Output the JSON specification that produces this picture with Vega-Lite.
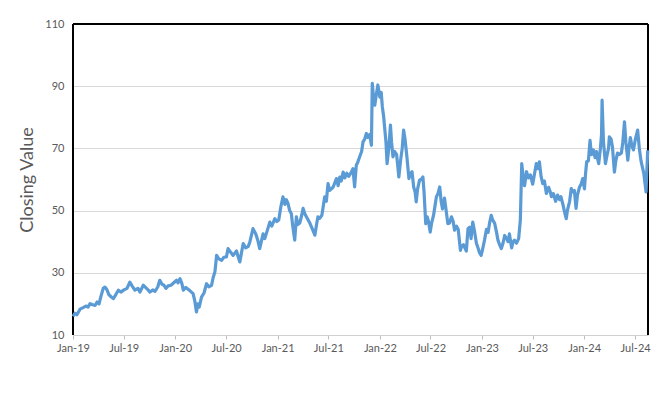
{
  "$schema": "https://vega.github.io/schema/vega-lite/v6.json",
  "width": 575,
  "height": 311,
  "autosize": {"type": "none"},
  "padding": {"left": 73, "top": 24, "right": 23, "bottom": 61},
  "background": "white",
  "config": {
    "view": {"stroke": null},
    "font": "Lato",
    "axis": {"labelFont": "Lato", "titleFont": "Lato", "labelColor": "#595959", "titleColor": "#595959"}
  },
  "data": {"values": [
    {"date":"2019-01-01","close":16.0},{"date":"2019-01-08","close":17.0},{"date":"2019-01-15","close":16.5},{"date":"2019-01-26","close":18.3},
    {"date":"2019-02-06","close":18.8},{"date":"2019-02-16","close":19.3},{"date":"2019-02-24","close":19.0},{"date":"2019-03-03","close":20.1},
    {"date":"2019-03-10","close":19.8},{"date":"2019-03-21","close":19.5},{"date":"2019-03-28","close":20.6},{"date":"2019-04-04","close":20.0},
    {"date":"2019-04-11","close":22.5},{"date":"2019-04-19","close":25.0},{"date":"2019-04-25","close":25.4},{"date":"2019-05-02","close":24.6},
    {"date":"2019-05-09","close":23.0},{"date":"2019-05-17","close":22.3},{"date":"2019-05-25","close":21.7},{"date":"2019-06-03","close":23.0},
    {"date":"2019-06-12","close":24.4},{"date":"2019-06-21","close":23.8},{"date":"2019-07-02","close":24.5},{"date":"2019-07-13","close":25.0},
    {"date":"2019-07-23","close":27.0},{"date":"2019-07-31","close":25.8},{"date":"2019-08-10","close":24.4},{"date":"2019-08-21","close":25.0},
    {"date":"2019-08-28","close":23.8},{"date":"2019-09-09","close":26.0},{"date":"2019-09-18","close":25.2},{"date":"2019-09-26","close":24.5},
    {"date":"2019-10-03","close":23.8},{"date":"2019-10-13","close":24.5},{"date":"2019-10-21","close":24.0},{"date":"2019-10-31","close":25.5},
    {"date":"2019-11-07","close":27.6},{"date":"2019-11-15","close":26.3},{"date":"2019-11-22","close":26.0},{"date":"2019-11-29","close":25.0},
    {"date":"2019-12-07","close":25.8},{"date":"2019-12-17","close":26.0},{"date":"2019-12-27","close":26.8},{"date":"2020-01-06","close":27.6},
    {"date":"2020-01-11","close":26.8},{"date":"2020-01-18","close":28.1},{"date":"2020-01-25","close":26.5},{"date":"2020-01-30","close":24.4},
    {"date":"2020-02-08","close":25.3},{"date":"2020-02-15","close":24.8},{"date":"2020-02-23","close":24.2},{"date":"2020-03-05","close":23.3},
    {"date":"2020-03-11","close":21.0},{"date":"2020-03-17","close":17.4},{"date":"2020-03-22","close":20.0},{"date":"2020-03-27","close":19.0},
    {"date":"2020-04-04","close":22.2},{"date":"2020-04-13","close":23.5},{"date":"2020-04-22","close":26.5},{"date":"2020-04-30","close":25.5},
    {"date":"2020-05-10","close":26.0},{"date":"2020-05-16","close":28.6},{"date":"2020-05-22","close":30.3},{"date":"2020-05-28","close":35.6},
    {"date":"2020-06-05","close":34.5},{"date":"2020-06-15","close":34.0},{"date":"2020-06-23","close":35.0},{"date":"2020-07-02","close":35.1},
    {"date":"2020-07-08","close":37.8},{"date":"2020-07-18","close":36.5},{"date":"2020-07-26","close":35.6},{"date":"2020-08-07","close":37.0},
    {"date":"2020-08-12","close":35.5},{"date":"2020-08-19","close":33.5},{"date":"2020-08-24","close":36.0},{"date":"2020-08-31","close":39.4},
    {"date":"2020-09-09","close":38.0},{"date":"2020-09-18","close":38.5},{"date":"2020-09-24","close":40.0},{"date":"2020-10-05","close":44.2},
    {"date":"2020-10-15","close":42.5},{"date":"2020-10-22","close":40.5},{"date":"2020-10-29","close":37.8},{"date":"2020-11-10","close":42.5},
    {"date":"2020-11-16","close":41.0},{"date":"2020-11-23","close":43.0},{"date":"2020-12-04","close":46.3},{"date":"2020-12-11","close":45.0},
    {"date":"2020-12-22","close":47.4},{"date":"2020-12-29","close":46.5},{"date":"2021-01-05","close":47.0},{"date":"2021-01-12","close":51.0},
    {"date":"2021-01-20","close":54.4},{"date":"2021-01-27","close":52.0},{"date":"2021-02-01","close":53.5},{"date":"2021-02-07","close":52.3},
    {"date":"2021-02-13","close":50.0},{"date":"2021-02-19","close":49.0},{"date":"2021-02-24","close":45.0},{"date":"2021-03-03","close":40.5},
    {"date":"2021-03-09","close":48.0},{"date":"2021-03-14","close":45.5},{"date":"2021-03-21","close":46.0},{"date":"2021-03-28","close":48.5},
    {"date":"2021-04-02","close":50.7},{"date":"2021-04-08","close":49.0},{"date":"2021-04-20","close":47.0},{"date":"2021-04-26","close":46.0},
    {"date":"2021-05-03","close":44.5},{"date":"2021-05-14","close":42.1},{"date":"2021-05-19","close":45.0},{"date":"2021-05-25","close":48.0},
    {"date":"2021-05-31","close":47.5},{"date":"2021-06-08","close":48.5},{"date":"2021-06-18","close":54.4},{"date":"2021-06-24","close":53.0},
    {"date":"2021-06-30","close":58.7},{"date":"2021-07-06","close":56.5},{"date":"2021-07-18","close":57.5},{"date":"2021-07-30","close":60.3},
    {"date":"2021-08-05","close":58.0},{"date":"2021-08-11","close":60.8},{"date":"2021-08-16","close":59.5},{"date":"2021-08-23","close":62.4},
    {"date":"2021-08-29","close":60.5},{"date":"2021-09-05","close":62.0},{"date":"2021-09-12","close":61.0},{"date":"2021-09-22","close":62.5},
    {"date":"2021-09-27","close":63.5},{"date":"2021-10-03","close":57.6},{"date":"2021-10-09","close":64.6},{"date":"2021-10-14","close":65.5},
    {"date":"2021-10-21","close":67.3},{"date":"2021-10-28","close":69.0},{"date":"2021-11-02","close":72.1},{"date":"2021-11-08","close":73.0},
    {"date":"2021-11-14","close":74.8},{"date":"2021-11-19","close":73.5},{"date":"2021-11-26","close":74.5},{"date":"2021-12-02","close":71.0},
    {"date":"2021-12-05","close":90.9},{"date":"2021-12-10","close":86.0},{"date":"2021-12-14","close":83.9},{"date":"2021-12-19","close":87.0},
    {"date":"2021-12-25","close":90.4},{"date":"2022-01-01","close":86.5},{"date":"2022-01-06","close":88.0},{"date":"2022-01-10","close":83.4},
    {"date":"2022-01-15","close":80.0},{"date":"2022-01-18","close":76.9},{"date":"2022-01-23","close":72.0},{"date":"2022-01-27","close":65.1},
    {"date":"2022-02-02","close":70.0},{"date":"2022-02-08","close":77.5},{"date":"2022-02-12","close":72.0},{"date":"2022-02-17","close":67.3},
    {"date":"2022-02-23","close":69.0},{"date":"2022-03-02","close":68.0},{"date":"2022-03-10","close":60.8},{"date":"2022-03-16","close":66.0},
    {"date":"2022-03-22","close":70.0},{"date":"2022-03-27","close":75.9},{"date":"2022-04-01","close":73.0},{"date":"2022-04-07","close":68.0},
    {"date":"2022-04-15","close":60.3},{"date":"2022-04-21","close":62.0},{"date":"2022-04-26","close":62.5},{"date":"2022-05-02","close":57.6},
    {"date":"2022-05-07","close":56.0},{"date":"2022-05-11","close":52.8},{"date":"2022-05-16","close":57.0},{"date":"2022-05-23","close":59.8},
    {"date":"2022-05-29","close":60.0},{"date":"2022-06-04","close":60.8},{"date":"2022-06-08","close":56.0},{"date":"2022-06-14","close":45.8},
    {"date":"2022-06-19","close":48.0},{"date":"2022-06-24","close":46.5},{"date":"2022-06-30","close":43.1},{"date":"2022-07-05","close":46.0},
    {"date":"2022-07-12","close":48.5},{"date":"2022-07-22","close":54.4},{"date":"2022-07-28","close":55.5},{"date":"2022-08-03","close":57.6},
    {"date":"2022-08-08","close":53.0},{"date":"2022-08-13","close":50.5},{"date":"2022-08-20","close":54.0},{"date":"2022-08-26","close":50.0},
    {"date":"2022-09-01","close":45.8},{"date":"2022-09-07","close":46.0},{"date":"2022-09-14","close":48.0},{"date":"2022-09-20","close":46.5},
    {"date":"2022-09-25","close":43.7},{"date":"2022-10-02","close":45.0},{"date":"2022-10-08","close":44.0},{"date":"2022-10-16","close":37.2},
    {"date":"2022-10-20","close":38.5},{"date":"2022-10-27","close":39.0},{"date":"2022-11-06","close":37.0},{"date":"2022-11-12","close":44.2},
    {"date":"2022-11-18","close":44.7},{"date":"2022-11-23","close":41.0},{"date":"2022-11-29","close":46.3},{"date":"2022-12-06","close":43.0},
    {"date":"2022-12-12","close":39.5},{"date":"2022-12-16","close":38.5},{"date":"2022-12-23","close":36.5},{"date":"2022-12-29","close":35.6},
    {"date":"2023-01-03","close":37.5},{"date":"2023-01-10","close":40.5},{"date":"2023-01-17","close":44.0},{"date":"2023-01-23","close":43.0},
    {"date":"2023-01-28","close":46.0},{"date":"2023-02-03","close":48.5},{"date":"2023-02-08","close":47.0},{"date":"2023-02-15","close":46.0},
    {"date":"2023-02-22","close":43.0},{"date":"2023-02-27","close":40.5},{"date":"2023-03-05","close":39.0},{"date":"2023-03-11","close":37.8},
    {"date":"2023-03-17","close":39.5},{"date":"2023-03-23","close":42.0},{"date":"2023-03-30","close":41.0},{"date":"2023-04-04","close":40.0},
    {"date":"2023-04-09","close":42.5},{"date":"2023-04-17","close":38.0},{"date":"2023-04-22","close":40.0},{"date":"2023-04-27","close":40.5},
    {"date":"2023-05-04","close":39.5},{"date":"2023-05-12","close":41.0},{"date":"2023-05-18","close":47.0},{"date":"2023-05-23","close":65.1},
    {"date":"2023-05-29","close":60.0},{"date":"2023-06-02","close":58.0},{"date":"2023-06-09","close":62.5},{"date":"2023-06-16","close":60.5},
    {"date":"2023-06-23","close":61.5},{"date":"2023-07-01","close":58.5},{"date":"2023-07-08","close":62.0},{"date":"2023-07-14","close":65.1},
    {"date":"2023-07-20","close":63.5},{"date":"2023-07-25","close":65.7},{"date":"2023-07-31","close":61.0},{"date":"2023-08-06","close":58.7},
    {"date":"2023-08-12","close":59.5},{"date":"2023-08-19","close":55.5},{"date":"2023-08-27","close":57.5},{"date":"2023-09-02","close":56.0},
    {"date":"2023-09-06","close":54.5},{"date":"2023-09-13","close":55.5},{"date":"2023-09-21","close":53.0},{"date":"2023-09-28","close":55.0},
    {"date":"2023-10-05","close":53.5},{"date":"2023-10-10","close":54.5},{"date":"2023-10-17","close":52.0},{"date":"2023-10-23","close":49.5},
    {"date":"2023-10-29","close":47.4},{"date":"2023-11-02","close":50.0},{"date":"2023-11-10","close":53.0},{"date":"2023-11-16","close":57.1},
    {"date":"2023-11-20","close":56.0},{"date":"2023-11-27","close":56.5},{"date":"2023-12-03","close":50.7},{"date":"2023-12-08","close":55.0},
    {"date":"2023-12-15","close":57.5},{"date":"2023-12-21","close":58.5},{"date":"2023-12-27","close":60.3},{"date":"2024-01-02","close":57.0},
    {"date":"2024-01-06","close":62.0},{"date":"2024-01-10","close":65.7},{"date":"2024-01-16","close":66.0},{"date":"2024-01-22","close":72.6},
    {"date":"2024-01-27","close":68.0},{"date":"2024-02-03","close":69.5},{"date":"2024-02-09","close":67.0},{"date":"2024-02-14","close":69.0},
    {"date":"2024-02-17","close":67.0},{"date":"2024-02-22","close":65.1},{"date":"2024-02-28","close":70.0},{"date":"2024-03-03","close":74.5},
    {"date":"2024-03-05","close":85.5},{"date":"2024-03-10","close":72.0},{"date":"2024-03-17","close":65.1},{"date":"2024-03-22","close":67.5},
    {"date":"2024-03-28","close":70.0},{"date":"2024-03-31","close":73.7},{"date":"2024-04-06","close":73.0},{"date":"2024-04-11","close":70.5},
    {"date":"2024-04-18","close":62.4},{"date":"2024-04-23","close":66.0},{"date":"2024-04-29","close":68.5},{"date":"2024-05-06","close":68.0},
    {"date":"2024-05-13","close":68.5},{"date":"2024-05-18","close":72.0},{"date":"2024-05-24","close":78.5},{"date":"2024-05-29","close":72.0},
    {"date":"2024-06-05","close":66.2},{"date":"2024-06-09","close":70.0},{"date":"2024-06-14","close":73.5},{"date":"2024-06-19","close":71.0},
    {"date":"2024-06-25","close":69.5},{"date":"2024-07-02","close":73.0},{"date":"2024-07-10","close":75.9},{"date":"2024-07-16","close":70.0},
    {"date":"2024-07-22","close":66.0},{"date":"2024-07-27","close":64.0},{"date":"2024-08-01","close":62.0},{"date":"2024-08-09","close":56.0},
    {"date":"2024-08-12","close":63.0},{"date":"2024-08-15","close":69.4}
  ]},
  "layer": [
    {
      "mark": {"type": "rule", "color": "#000000", "strokeWidth": 1.2},
      "encoding": {"y": {"datum": 110}}
    },
    {
      "mark": {"type": "rule", "color": "#000000", "strokeWidth": 1.2},
      "encoding": {"x": {"datum": {"year": 2019, "month": 1, "date": 1, "utc": true}, "type": "temporal"}}
    },
    {
      "mark": {"type": "rule", "color": "#000000", "strokeWidth": 1.2},
      "encoding": {"x": {"datum": {"year": 2024, "month": 8, "date": 16, "utc": true}, "type": "temporal"}}
    },
    {
      "mark": {"type": "line", "color": "#5b9bd5", "strokeWidth": 3.2, "strokeJoin": "round"},
      "encoding": {
        "x": {
          "field": "date", "type": "temporal",
          "scale": {"type": "utc", "domain": ["2019-01-01", "2024-08-16"]},
          "axis": {
            "title": null,
            "labelExpr": "utcFormat(datum.value, '%b-%y')",
            "values": [
              {"year": 2019, "month": 1, "date": 1, "utc": true}, {"year": 2019, "month": 7, "date": 1, "utc": true},
              {"year": 2020, "month": 1, "date": 1, "utc": true}, {"year": 2020, "month": 7, "date": 1, "utc": true},
              {"year": 2021, "month": 1, "date": 1, "utc": true}, {"year": 2021, "month": 7, "date": 1, "utc": true},
              {"year": 2022, "month": 1, "date": 1, "utc": true}, {"year": 2022, "month": 7, "date": 1, "utc": true},
              {"year": 2023, "month": 1, "date": 1, "utc": true}, {"year": 2023, "month": 7, "date": 1, "utc": true},
              {"year": 2024, "month": 1, "date": 1, "utc": true}, {"year": 2024, "month": 7, "date": 1, "utc": true}
            ],
            "grid": false, "domainColor": "#d0d0d0", "domainWidth": 1,
            "tickColor": "#bfbfbf", "tickSize": 4, "labelPadding": 3,
            "labelFontSize": 11, "labelAngle": 0, "labelFlush": false, "labelOverlap": false
          }
        },
        "y": {
          "field": "close", "type": "quantitative",
          "scale": {"domain": [10, 110], "nice": false, "zero": false},
          "axis": {
            "title": "Closing Value", "values": [10, 30, 50, 70, 90, 110],
            "grid": true, "gridColor": "#d9d9d9", "gridWidth": 1,
            "domain": false, "ticks": false, "tickSize": 0,
            "labelPadding": 9, "labelFontSize": 11,
            "titleFontSize": 18, "titleFontWeight": "normal", "titlePadding": 8
          }
        }
      }
    }
  ]
}
